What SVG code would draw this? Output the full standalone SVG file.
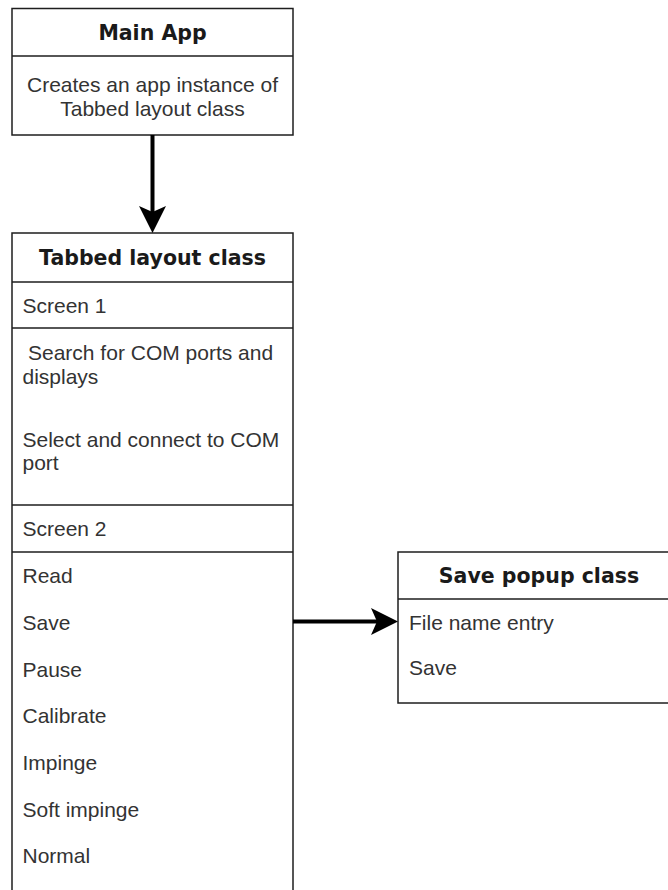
<svg xmlns="http://www.w3.org/2000/svg" width="668" height="890" viewBox="0 0 668 890">
  <style>
    .box { fill: #ffffff; stroke: #1e1e1e; stroke-width: 1.5; }
    .sep { stroke: #1e1e1e; stroke-width: 1.5; fill: none; }
    .title { font-family: "DejaVu Sans", Verdana, sans-serif; font-weight: bold; font-size: 20.5px; fill: #1a1a1a; text-anchor: middle; }
    .item { font-family: "Liberation Sans", Arial, sans-serif; font-size: 21px; fill: #333333; }
    .centered { text-anchor: middle; }
    .link { stroke: #000000; stroke-width: 4; fill: none; }
  </style>
  <defs>
    <marker id="arrowhead" markerUnits="userSpaceOnUse" markerWidth="28" markerHeight="28" refX="6" refY="13.5" orient="auto">
      <path d="M0,0 L27,13.5 L0,27 L6,13.5 Z" fill="#000000"/>
    </marker>
  </defs>

  <rect width="668" height="890" fill="#ffffff"/>

  <!-- Main App -->
  <g id="main-app">
    <rect class="box" x="12" y="8.5" width="281" height="126.5"/>
    <line class="sep" x1="12" y1="56" x2="293" y2="56"/>
    <text class="title" x="152.5" y="40">Main App</text>
    <text class="item centered" x="152.5" y="92">Creates an app instance of</text>
    <text class="item centered" x="152.5" y="115.5">Tabbed layout class</text>
  </g>

  <!-- Tabbed layout class -->
  <g id="tabbed-layout">
    <rect class="box" x="12" y="233" width="281" height="680"/>
    <line class="sep" x1="12" y1="282" x2="293" y2="282"/>
    <line class="sep" x1="12" y1="328" x2="293" y2="328"/>
    <line class="sep" x1="12" y1="505" x2="293" y2="505"/>
    <line class="sep" x1="12" y1="552" x2="293" y2="552"/>
    <text class="title" x="152.5" y="265">Tabbed layout class</text>
    <text class="item" x="22.5" y="313">Screen 1</text>
    <text class="item" x="28" y="360">Search for COM ports and</text>
    <text class="item" x="22.5" y="383.5">displays</text>
    <text class="item" x="22.5" y="446.5">Select and connect to COM</text>
    <text class="item" x="22.5" y="470">port</text>
    <text class="item" x="22.5" y="536">Screen 2</text>
    <text class="item" x="22.5" y="583">Read</text>
    <text class="item" x="22.5" y="630">Save</text>
    <text class="item" x="22.5" y="676.5">Pause</text>
    <text class="item" x="22.5" y="723">Calibrate</text>
    <text class="item" x="22.5" y="770">Impinge</text>
    <text class="item" x="22.5" y="816.5">Soft impinge</text>
    <text class="item" x="22.5" y="863">Normal</text>
  </g>

  <!-- Save popup class -->
  <g id="save-popup">
    <rect class="box" x="398" y="552" width="282" height="151"/>
    <line class="sep" x1="398" y1="599" x2="680" y2="599"/>
    <text class="title" x="539" y="583">Save popup class</text>
    <text class="item" x="409" y="630">File name entry</text>
    <text class="item" x="409" y="675">Save</text>
  </g>

  <!-- Connectors -->
  <g id="connectors">
    <line class="link" x1="152.5" y1="135" x2="152.5" y2="212" marker-end="url(#arrowhead)"/>
    <line class="link" x1="293" y1="621.5" x2="377" y2="621.5" marker-end="url(#arrowhead)"/>
  </g>
</svg>
